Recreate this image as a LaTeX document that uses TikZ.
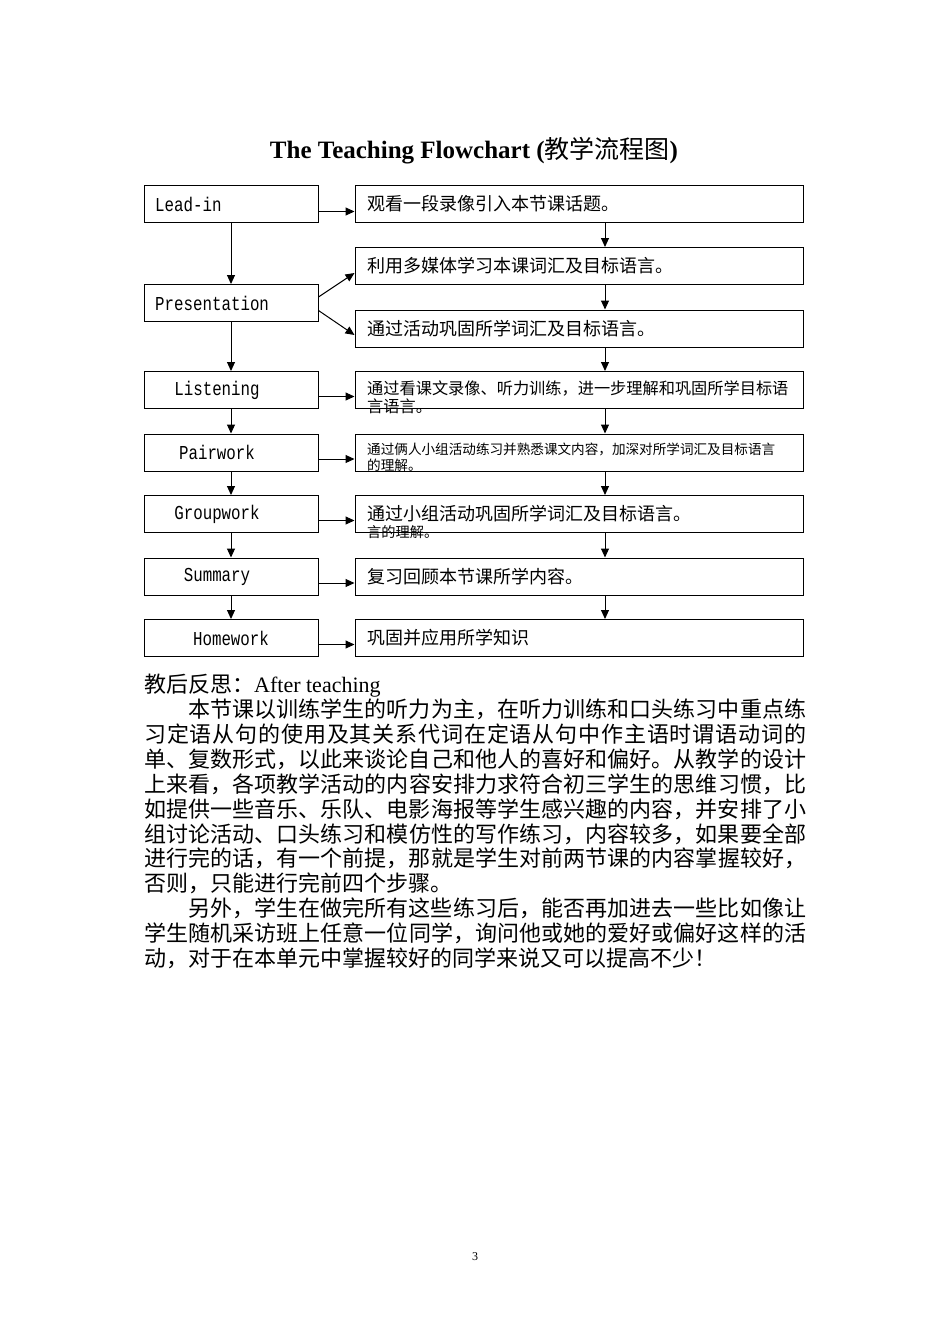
\documentclass[tikz,border=0pt]{standalone}
\usepackage{fontspec}
\setmainfont{Liberation Serif}
\newfontfamily\cjk{Noto Sans CJK SC}
\newfontfamily\monof{Liberation Mono}
\usetikzlibrary{arrows.meta}
\begin{document}
\begin{tikzpicture}[x=1pt,y=-1pt,
  lbox/.style={draw,line width=1pt,minimum width=174pt,minimum height=37pt,inner sep=0pt},
  rbox/.style={draw,line width=1pt,minimum width=448pt,minimum height=37pt,inner sep=0pt},
  ltext/.style={inner sep=0pt,font=\monof\fontsize{15.8pt}{18pt}\selectfont},
  rtext/.style={anchor=west,inner sep=0pt,font=\cjk\fontsize{18pt}{20pt}\selectfont},
  arr/.style={line width=1pt,-{Triangle[length=9pt,width=8pt]}}]
\useasboundingbox (0,0) rectangle (950,1344);
% title
\node[anchor=base,inner sep=0pt] (title) at (474,158) {\fontsize{25pt}{30pt}\selectfont\bfseries The Teaching Flowchart ({\cjk\mdseries 教学流程图})};
% left boxes
\node[lbox] (L1) at (231,204) {};
\node[lbox] (L2) at (231,303) {};
\node[lbox] (L3) at (231,390) {};
\node[lbox] (L4) at (231,452.5) {};
\node[lbox] (L5) at (231,514) {};
\node[lbox] (L6) at (231,576.5) {};
\node[lbox] (L7) at (231,638) {};
% right boxes
\node[rbox] (R1) at (579,204) {};
\node[rbox] (R2) at (579,266) {};
\node[rbox] (R3) at (579,328.5) {};
\node[rbox] (R4) at (579,390) {};
\node[rbox] (R5) at (579,452.5) {};
\node[rbox] (R6) at (579,514) {};
\node[rbox] (R7) at (579,576.5) {};
\node[rbox] (R8) at (579,638) {};
% left texts
\node[ltext,anchor=west] (t1) at (155,204) {\scalebox{1}[1.25]{Lead-in}};
\node[ltext,anchor=west] (t2) at (155,303) {\scalebox{1}[1.25]{Presentation}};
\node[ltext] (t3) at (217,390) {\scalebox{1}[1.25]{Listening}};
\node[ltext] (t4) at (217,452.5) {\scalebox{1}[1.25]{Pairwork}};
\node[ltext] (t5) at (217,514) {\scalebox{1}[1.25]{Groupwork}};
\node[ltext] (t6) at (217,576.5) {\scalebox{1}[1.25]{Summary}};
\node[ltext] (t7) at (231,638) {\scalebox{1}[1.25]{Homework}};
% right texts
\node[rtext] (s1) at (367,204) {观看一段录像引入本节课话题。};
\node[rtext] (s2) at (367,266) {利用多媒体学习本课词汇及目标语言。};
\node[rtext] (s3) at (367,328.5) {通过活动巩固所学词汇及目标语言。};
\node[rtext,font=\cjk\fontsize{16.2pt}{18pt}\selectfont] (s4a) at (367,388.5) {通过看课文录像、听力训练，进一步理解和巩固所学目标语};
\node[rtext,font=\cjk\fontsize{16.2pt}{18pt}\selectfont] (s4b) at (367,406.5) {言语言。};
\node[rtext,font=\cjk\fontsize{13.6pt}{16pt}\selectfont] (s5a) at (367,449.5) {通过俩人小组活动练习并熟悉课文内容，加深对所学词汇及目标语言};
\node[rtext,font=\cjk\fontsize{13.6pt}{16pt}\selectfont] (s5b) at (367,465) {的理解。};
\node[rtext] (s6a) at (367,513.5) {通过小组活动巩固所学词汇及目标语言。};
\node[rtext,font=\cjk\fontsize{14.2pt}{16pt}\selectfont] (s6b) at (367,532.5) {言的理解。};
\node[rtext] (s7) at (367,576.5) {复习回顾本节课所学内容。};
\node[rtext] (s8) at (367,638) {巩固并应用所学知识};
% left vertical arrows
\draw[arr] (L1.south) -- (L2.north);
\draw[arr] (L2.south) -- (L3.north);
\draw[arr] (L3.south) -- (L4.north);
\draw[arr] (L4.south) -- (L5.north);
\draw[arr] (L5.south) -- (L6.north);
\draw[arr] (L6.south) -- (L7.north);
% right vertical arrows
\foreach \a/\b in {R1/R2,R2/R3,R3/R4,R4/R5,R5/R6,R6/R7,R7/R8}
  \draw[arr] ([xshift=26pt]\a.south) -- ([xshift=26pt]\b.north);
% horizontal arrows
\draw[arr] ([yshift=-7.5pt]L1.east) -- ([yshift=-7.5pt]R1.west);
\draw[arr] ([yshift=6pt]L2.east) -- ([yshift=-7pt]R2.west);
\draw[arr] ([yshift=-7.5pt]L2.east) -- ([yshift=-6.5pt]R3.west);
\draw[arr] ([yshift=-6.5pt]L3.east) -- ([yshift=-6.5pt]R4.west);
\draw[arr] ([yshift=-6.5pt]L4.east) -- ([yshift=-6.5pt]R5.west);
\draw[arr] ([yshift=-6.5pt]L5.east) -- ([yshift=-6.5pt]R6.west);
\draw[arr] ([yshift=-6.5pt]L6.east) -- ([yshift=-6.5pt]R7.west);
\draw[arr] ([yshift=-6.5pt]L7.east) -- ([yshift=-6.5pt]R8.west);
% reflection text
\node[anchor=north west,inner sep=0pt,text width=662pt,align=justify] (para) at (144,674) {%
\fontsize{22pt}{24.9pt}\selectfont
\XeTeXlinebreaklocale "zh"\XeTeXlinebreakskip=0pt plus 2pt\relax
\parindent=0pt
{\cjk 教后反思：}After teaching\par
\parindent=44pt
{\cjk 本节课以训练学生的听力为主，在听力训练和口头练习中重点练\linebreak
习定语从句的使用及其关系代词在定语从句中作主语时谓语动词的\linebreak
单、复数形式，以此来谈论自己和他人的喜好和偏好。从教学的设计\linebreak
上来看，各项教学活动的内容安排力求符合初三学生的思维习惯，比\linebreak
如提供一些音乐、乐队、电影海报等学生感兴趣的内容，并安排了小\linebreak
组讨论活动、口头练习和模仿性的写作练习，内容较多，如果要全部\linebreak
进行完的话，有一个前提，那就是学生对前两节课的内容掌握较好，\linebreak
否则，只能进行完前四个步骤。\par
另外，学生在做完所有这些练习后，能否再加进去一些比如像让\linebreak
学生随机采访班上任意一位同学，询问他或她的爱好或偏好这样的活\linebreak
动，对于在本单元中掌握较好的同学来说又可以提高不少！\par}};
% page number
\node[inner sep=0pt,font=\fontsize{12pt}{14pt}\selectfont] (pg) at (475,1257) {3};
\end{tikzpicture}
\end{document}
